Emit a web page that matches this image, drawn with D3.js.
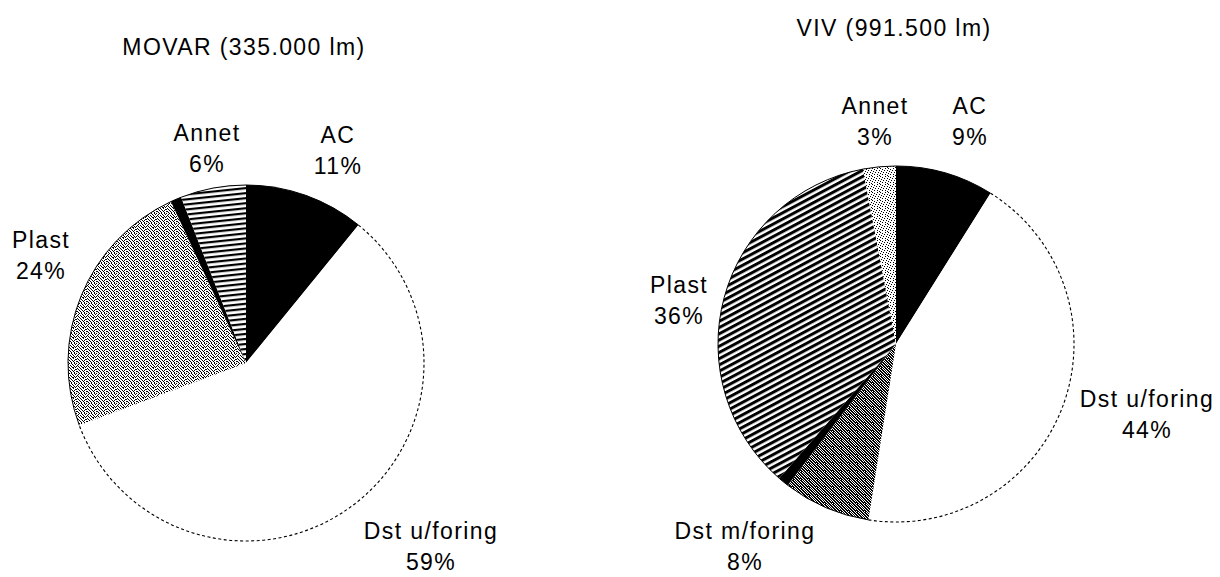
<!DOCTYPE html>
<html>
<head>
<meta charset="utf-8">
<script src="https://cdn.jsdelivr.net/npm/d3@7"></script>
<style>
  html, body { margin: 0; padding: 0; background: #fff; }
  svg text { font-family: "Liberation Sans", Arial, sans-serif; font-size: 23px; letter-spacing: 1.4px; fill: #000; }
</style>
</head>
<body>
<svg id="chart"></svg>
<script>
// data (percent of total length)
var movarTitle = "MOVAR (335.000 lm)";
var movarCategories = ["AC", "Dst u/foring", "Plast", "", "Annet"];
var movarValues = [11, 59, 24, 1, 6];

var vivTitle = "VIV (991.500 lm)";
var vivCategories = ["AC", "Dst u/foring", "Dst m/foring", "", "Plast", "Annet"];
var vivValues = [9, 44, 8, 1, 36, 3];

// styles per slice
var movarFills = ["solid", "white", "stippleMid", "solid", "hatchFlat"];
var vivFills = ["solid", "white", "stippleDense", "solid", "hatchSteep", "stippleLight"];

// layout: label block offsets from pie centre (first line baseline)
var movarLabelPos = [[92, -220], [185, 176], [-205, -115], null, [-39, -222]];
var vivLabelPos = [[74, -230], [251, 63], [-151, 195], null, [-217, -51], [-21, -230]];

var W = 1220, H = 577;
var svg = d3.select("#chart").attr("width", W).attr("height", H);
var defs = svg.append("defs");

// bitmap-like tiles for the stipple fills
var tiles = {
  stippleMid: ["1001010010", "0010001001", "0100100100", "1010010010", "0001001101",
               "0100100100", "1010010001", "0001001010", "1100100100", "0010010010"],
  stippleDense: ["11010110", "01101011", "10110101", "11011010", "01101101", "10110110", "11011011", "01101101"],
  stippleLight: ["10000100", "00100000", "00001001", "01000000", "00010010", "10000000", "00100100", "00000001"]
};
Object.keys(tiles).forEach(function(id) {
  var rows = tiles[id];
  var p = defs.append("pattern").attr("id", id)
    .attr("patternUnits", "userSpaceOnUse")
    .attr("width", rows[0].length).attr("height", rows.length);
  p.append("rect").attr("width", rows[0].length).attr("height", rows.length).attr("fill", "#fff");
  rows.forEach(function(r, y) {
    r.split("").forEach(function(c, x) {
      if (c === "1") p.append("rect").attr("x", x).attr("y", y).attr("width", 1).attr("height", 1).attr("fill", "#000");
    });
  });
});

// line hatches
function hatch(id, h, thick, angle) {
  var p = defs.append("pattern").attr("id", id)
    .attr("patternUnits", "userSpaceOnUse")
    .attr("width", 10).attr("height", h)
    .attr("patternTransform", "rotate(" + angle + ")");
  p.append("rect").attr("width", 10).attr("height", h).attr("fill", "#fff");
  p.append("rect").attr("width", 10).attr("height", thick).attr("fill", "#000");
}
hatch("hatchFlat", 5, 2.2, -6);
hatch("hatchSteep", 5.5, 3, -28);

function fillOf(k) {
  if (k === "solid") return "#000";
  if (k === "white") return "#fff";
  return "url(#" + k + ")";
}

function drawPie(opts) {
  var r = 178;
  var g = svg.append("g").attr("transform", "translate(" + opts.cx + "," + opts.cy + ")");
  var pie = d3.pie().sort(null).value(function(d) { return d; });
  var arcs = pie(opts.values);
  var arc = d3.arc().innerRadius(0).outerRadius(r);

  g.selectAll("path.slice")
    .data(arcs)
    .enter()
    .append("path")
    .attr("class", "slice")
    .attr("d", arc)
    .attr("fill", function(d, i) { return fillOf(opts.fills[i]); });

  // outer rim of each slice
  g.selectAll("path.rim")
    .data(arcs)
    .enter()
    .append("path")
    .attr("class", "rim")
    .attr("d", function(d) {
      var p = d3.path();
      p.arc(0, 0, r, d.startAngle - Math.PI / 2, d.endAngle - Math.PI / 2);
      return p.toString();
    })
    .attr("fill", "none")
    .attr("stroke", "#000")
    .attr("stroke-width", function(d, i) { return opts.fills[i] === "white" ? 1.1 : 1; })
    .attr("stroke-dasharray", function(d, i) { return opts.fills[i] === "white" ? "3,2.5" : null; });

  // title
  g.append("text")
    .attr("x", -2).attr("y", -308)
    .attr("text-anchor", "middle")
    .text(opts.title);

  // labels
  arcs.forEach(function(d, i) {
    var pos = opts.labelPos[i];
    if (!pos || !opts.categories[i]) return;
    var t = g.append("text").attr("text-anchor", "middle");
    t.append("tspan").attr("x", pos[0]).attr("y", pos[1]).text(opts.categories[i]);
    t.append("tspan").attr("x", pos[0]).attr("y", pos[1] + 31).text(opts.values[i] + "%");
  });
}

drawPie({ cx: 246, cy: 363, title: movarTitle, categories: movarCategories, values: movarValues,
          fills: movarFills, labelPos: movarLabelPos });
drawPie({ cx: 896, cy: 344, title: vivTitle, categories: vivCategories, values: vivValues,
          fills: vivFills, labelPos: vivLabelPos });
</script>
</body>
</html>
